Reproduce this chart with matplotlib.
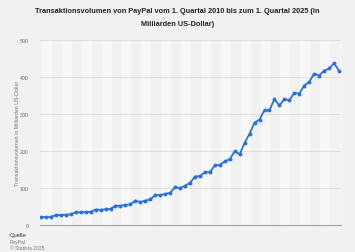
import matplotlib.pyplot as plt

plt.rcParams['font.family'] = ['Liberation Sans', 'DejaVu Sans']

# Transaktionsvolumen PayPal, Mrd. US-Dollar, Q1 2010 - Q1 2025
quarters = [f"Q{q} {y}" for y in range(2010, 2025) for q in range(1, 5)] + ["Q1 2025"]
volume = [21.4, 21.9, 22.2, 26.6,
          27.1, 27.7, 28.8, 34.6,
          33.9, 34.7, 35.4, 41.8,
          41.0, 42.5, 43.6, 52.0,
          52.0, 54.0, 56.0, 66.0,
          62.0, 66.0, 69.0, 81.0,
          81.0, 84.0, 87.0, 102.0,
          100.0, 106.0, 114.0, 131.0,
          132.0, 143.0, 143.0, 161.0,
          162.0, 172.0, 178.0, 199.0,
          191.0, 222.0, 247.0, 277.0,
          285.0, 311.0, 310.0, 340.0,
          323.0, 340.0, 337.0, 357.0,
          355.0, 377.0, 387.0, 409.0,
          404.0, 417.0, 423.0, 437.0,
          417.0]
yticks = [0, 100, 200, 300, 400, 500]

bg = '#f1f1f1'
fig = plt.figure(figsize=(3.55, 2.53), dpi=100, facecolor=bg)
ax = fig.add_axes([40/355, 27/253, 301/355, 185/253])
ax.set_facecolor(bg)

x = list(range(len(volume)))
# alternating stripes
for k in range(0, len(volume), 4):
    ax.axvspan(k + 0.2, k + 2.2, color='#f7f7f7', zorder=0, lw=0)

for t in yticks[1:]:
    ax.axhline(t, color='#dadada', lw=0.6, zorder=1)

ax.plot(x, volume, color='#2a72d9', lw=1.3, marker='o', ms=1.8, zorder=3)

ax.set_xlim(-0.2, 60.4)
ax.set_ylim(0, 500)
ax.set_xticks([])
ax.set_yticks(yticks)
ax.set_yticklabels([str(t) for t in yticks], fontsize=3.8, color='#666666')
ax.tick_params(axis='y', length=0, pad=8)
for s in ['top', 'right', 'left']:
    ax.spines[s].set_visible(False)
ax.spines['bottom'].set_color('#a0a0a0')
ax.spines['bottom'].set_linewidth(0.8)

fig.text(18/355, 1 - 133/253, 'Transaktionsvolumen in Milliarden US-Dollar', rotation=90,
         fontsize=3.8, color='#777777', ha='center', va='center')

fig.text(0.5, 1 - 12/253, 'Transaktionsvolumen von PayPal vom 1. Quartal 2010 bis zum 1. Quartal 2025 (in',
         fontsize=5.3, fontweight='bold', ha='center', va='center', color='#222222')
fig.text(0.5, 1 - 24/253, 'Milliarden US-Dollar)',
         fontsize=5.3, fontweight='bold', ha='center', va='center', color='#222222')

fig.text(10/355, 1 - 236/253, 'Quelle', fontsize=4.2, color='#333333', va='center')
fig.text(10/355, 1 - 243/253, 'PayPal', fontsize=3.6, color='#777777', va='center')
fig.text(10/355, 1 - 249/253, '© Statista 2025', fontsize=3.6, color='#777777', va='center')

fig.savefig('out.png', dpi=100, facecolor=bg)
